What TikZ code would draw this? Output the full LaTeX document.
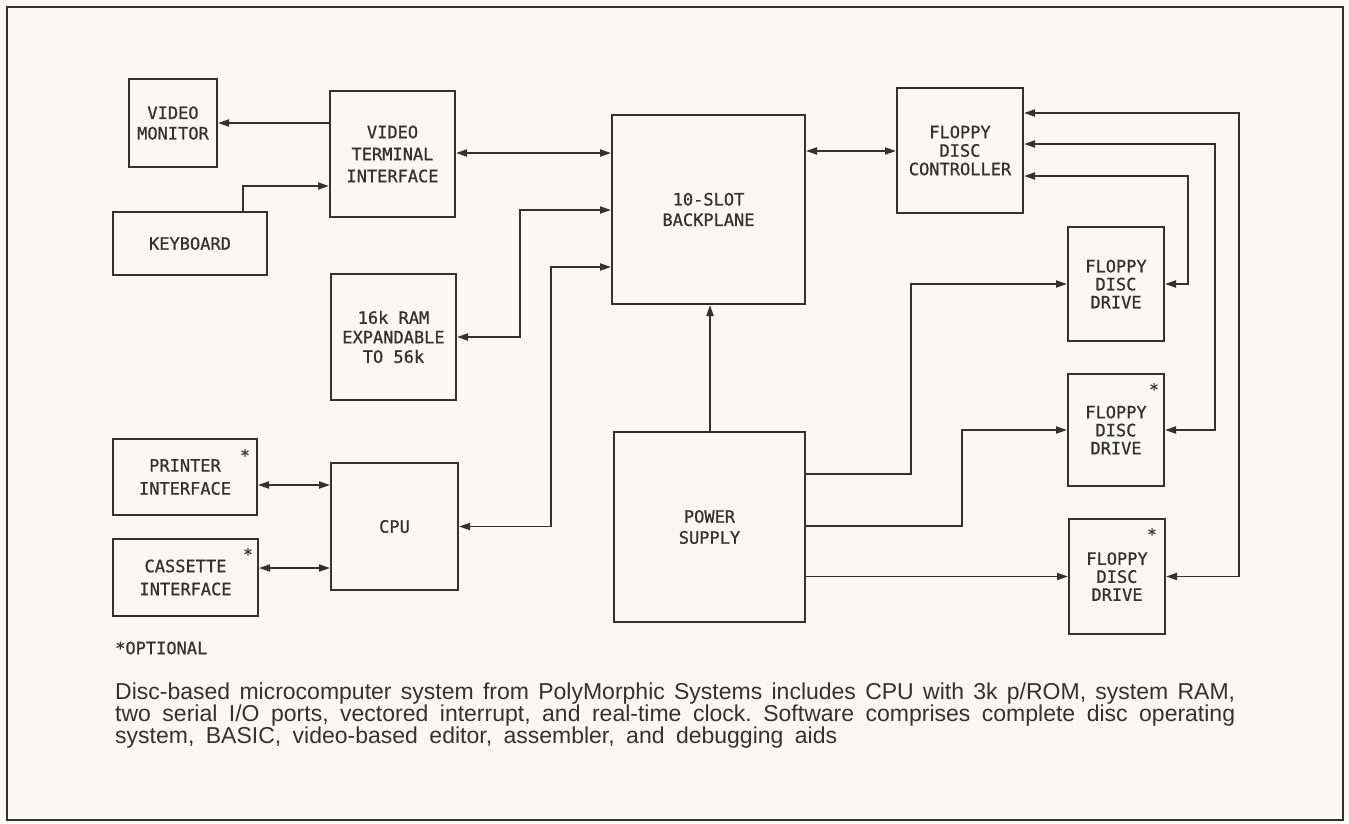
\documentclass[tikz,border=0pt]{standalone}
\usepackage{fontspec}
\setmainfont{Liberation Sans}
\newfontfamily\boxfont[FakeBold=0.8]{DejaVu Sans Mono}
\usetikzlibrary{arrows.meta}
\definecolor{paper}{RGB}{249,248,245}
\definecolor{ink}{RGB}{50,50,50}
\tikzset{
  blk/.style={draw=ink, line width=2pt, align=center, inner sep=0pt, text=ink,
    font=\boxfont\fontsize{17}{20.5}\selectfont},
  wire/.style={draw=ink, line width=1.9pt},
  one/.style={wire, -{Triangle[length=11pt,width=7pt]}},
  two/.style={wire, {Triangle[length=11pt,width=7pt]}-{Triangle[length=11pt,width=7pt]}},
  star/.style={text=ink, font=\boxfont\fontsize{16}{16}\selectfont, inner sep=0pt, anchor=north},
}
\begin{document}
\begin{tikzpicture}[x=1pt,y=-1pt]
\fill[paper] (0,0) rectangle (1349,823);
\useasboundingbox (0,0) rectangle (1349,823);
\draw[ink, line width=2.5pt] (7,7) rectangle (1343,820);

% boxes
\node[blk, minimum width=88pt,  minimum height=88pt]  (mon)  at (173,123)    {VIDEO\\MONITOR};
\node[blk, minimum width=125pt, minimum height=126pt, font=\boxfont\fontsize{17}{22}\selectfont] (vti) at (392.5,154) {VIDEO\\TERMINAL\\INTERFACE};
\node[blk, minimum width=154pt, minimum height=63pt]  (kbd)  at (190,243.5)  {KEYBOARD};
\node[blk, minimum width=125pt, minimum height=126pt, font=\boxfont\fontsize{17}{19.5}\selectfont] (ram) at (393.5,337) {16k RAM\\EXPANDABLE\\TO 56k};
\node[blk, minimum width=193pt, minimum height=189pt] (bp)   at (708.5,209.5) {10-SLOT\\BACKPLANE};
\node[blk, minimum width=126pt, minimum height=125pt, font=\boxfont\fontsize{17}{18.5}\selectfont] (fdc) at (960,150.5) {FLOPPY\\DISC\\CONTROLLER};
\node[blk, minimum width=96pt,  minimum height=114pt, font=\boxfont\fontsize{17}{18}\selectfont] (fdd1) at (1116,284) {FLOPPY\\DISC\\DRIVE};
\node[blk, minimum width=96pt,  minimum height=112pt, font=\boxfont\fontsize{17}{18}\selectfont] (fdd2) at (1116,430) {FLOPPY\\DISC\\DRIVE};
\node[blk, minimum width=96pt,  minimum height=115pt, font=\boxfont\fontsize{17}{18}\selectfont] (fdd3) at (1117,576.5) {FLOPPY\\DISC\\DRIVE};
\node[blk, minimum width=144pt, minimum height=76pt, font=\boxfont\fontsize{17}{23}\selectfont]  (prn)  at (185,477)    {PRINTER\\INTERFACE};
\node[blk, minimum width=145pt, minimum height=77pt, font=\boxfont\fontsize{17}{23}\selectfont]  (cas)  at (185.5,577.5) {CASSETTE\\INTERFACE};
\node[blk, minimum width=127pt, minimum height=127pt] (cpu)  at (394.5,526.5) {CPU};
\node[blk, minimum width=191pt, minimum height=190pt, font=\boxfont\fontsize{17}{21}\selectfont] (psu) at (709.5,527) {POWER\\SUPPLY};

% optional marks
\node[star] (s1) at (245,449) {*};
\node[star] (s2) at (248,548) {*};
\node[star] (s3) at (1154,383) {*};
\node[star] (s4) at (1152,528) {*};
\node[anchor=west, inner sep=0pt, text=ink, font=\boxfont\fontsize{17}{20}\selectfont] (opt) at (115,648) {*OPTIONAL};

% bend and level coordinates
\coordinate (kbturn) at (243,186);
\coordinate (yv) at (0,153);
\coordinate (rturn) at (520,210);
\coordinate (cturn) at (551,267);
\coordinate (yp) at (0,485);
\coordinate (yc) at (0,568);
\coordinate (yf) at (0,151);
\coordinate (xps) at (710,0);
\coordinate (p1) at (911,474);
\coordinate (p2) at (962,526);
\coordinate (f1) at (1188,176);
\coordinate (f2) at (1215,144);
\coordinate (f3) at (1239,113);

% connectors
\draw[one] (vti.west |- mon.east) -- (mon.east);
\draw[one] (kbd.north -| kbturn) |- (vti.west |- kbturn);
\draw[two] (vti.east |- yv) -- (bp.west |- yv);
\draw[two] (ram.east) -| (rturn) -- (bp.west |- rturn);
\draw[two] (cpu.east) -| (cturn) -- (bp.west |- cturn);
\draw[two] (prn.east |- yp) -- (cpu.west |- yp);
\draw[two] (cas.east |- yc) -- (cpu.west |- yc);
\draw[two] (bp.east |- yf) -- (fdc.west |- yf);
\draw[one] (psu.north -| xps) -- (bp.south -| xps);
\draw[one] (psu.east |- p1) -| (p1 |- fdd1.west) -- (fdd1.west);
\draw[one] (psu.east |- p2) -| (p2 |- fdd2.west) -- (fdd2.west);
\draw[one] (psu.east |- fdd3.west) -- (fdd3.west);
\draw[two] (fdc.east |- f1) -| (f1 |- fdd1.east) -- (fdd1.east);
\draw[two] (fdc.east |- f2) -| (f2 |- fdd2.east) -- (fdd2.east);
\draw[two] (fdc.east |- f3) -| (f3 |- fdd3.east) -- (fdd3.east);

% caption
\node[anchor=north west, inner sep=0pt, text width=1120pt, align=justify, text=ink,
  font=\fontsize{23}{22}\selectfont] (cap) at (115,683)
{\frenchspacing\tolerance=9999\hbadness=10000 Disc-based microcomputer system from PolyMorphic Systems includes CPU with 3k p/ROM, system RAM,\linebreak two serial I/O ports, vectored interrupt, and real-time clock. Software comprises complete disc operating\linebreak \makebox[722pt][s]{system, BASIC, video-based editor, assembler, and debugging aids}};
\end{tikzpicture}
\end{document}
